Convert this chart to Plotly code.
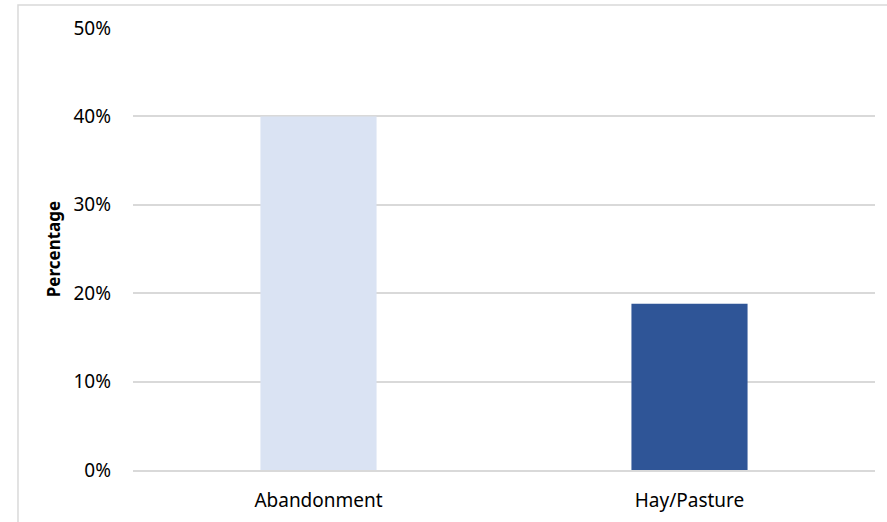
import plotly.graph_objects as go

categories = ["Abandonment", "Hay/Pasture"]
values = [0.40, 0.188]
colors = ["#DAE3F3", "#2F5597"]
tick_vals = [0, 0.1, 0.2, 0.3, 0.4, 0.5]
tick_text = ["0%", "10%", "20%", "30%", "40%", "50%"]

fig = go.Figure()
fig.add_trace(go.Bar(
    x=categories, y=values, marker=dict(color=colors, line=dict(width=0)),
    width=0.313, hoverinfo="skip"
))

font_family = "Noto Sans, Open Sans, DejaVu Sans, sans-serif"
fig.update_layout(
    width=887, height=522,
    margin=dict(l=133, r=12, t=28, b=52),
    paper_bgcolor="white", plot_bgcolor="white",
    showlegend=False,
    font=dict(family=font_family, size=19, color="#000000"),
    xaxis=dict(
        showgrid=False, showline=True, linecolor="#D9D9D9", linewidth=1.5,
        ticks="", tickfont=dict(size=19), ticklabelstandoff=12,
        zeroline=False, automargin=False,
    ),
    yaxis=dict(
        range=[0, 0.5], tickvals=tick_vals, ticktext=tick_text,
        showgrid=True, gridcolor="#D9D9D9", gridwidth=1.5,
        zeroline=False, showline=False, ticks="",
        tickfont=dict(size=19), ticklabelstandoff=21, automargin=False,
        title=dict(text="<b>Percentage</b>", font=dict(size=17), standoff=8),
    ),
    shapes=[dict(
        type="rect", xref="paper", yref="paper",
        x0=-0.155, x1=1.5, y0=-0.5, y1=1.052,
        line=dict(color="#D9D9D9", width=1.5), fillcolor="rgba(0,0,0,0)",
        layer="below",
    )],
)

fig.write_html("out.html")
